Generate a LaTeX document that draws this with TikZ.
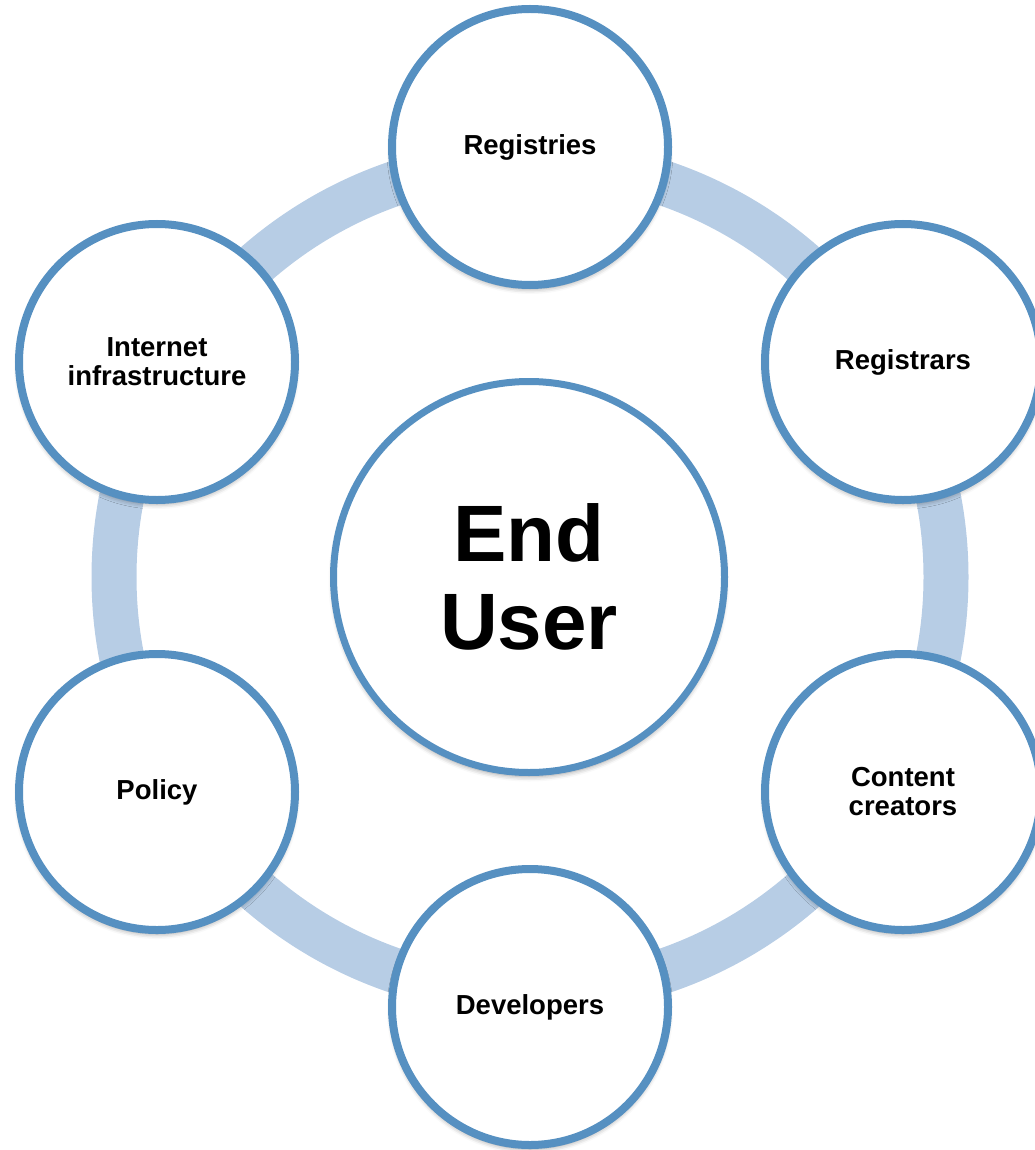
\documentclass[tikz,border=0pt]{standalone}
\usepackage{fontspec}
\setmainfont{Liberation Sans}
\usetikzlibrary{shadows.blur}
\definecolor{bord}{HTML}{5690C1}
\definecolor{ringc}{HTML}{B7CDE5}
\begin{document}
\begin{tikzpicture}[x=1pt,y=-1pt,
  softshadow/.style={blur shadow={shadow xshift=0pt, shadow yshift=-4pt, shadow blur radius=5pt, shadow opacity=40}},
  hub/.style={circle, draw=bord, line width=7pt, fill=white, minimum size=391pt, inner sep=0pt, align=center,
    font=\fontsize{80}{88}\selectfont\bfseries, softshadow},
  spoke/.style={circle, draw=bord, line width=8pt, fill=white, minimum size=276pt, inner sep=0pt, align=center,
    font=\fontsize{27.5}{29}\selectfont\bfseries, softshadow}]
\useasboundingbox (0,0) rectangle (1034,1150);
\coordinate (C) at (530,577);
\draw[ringc, line width=45pt] (C) circle (416);
\node[hub] (eu) at (529,577) {End\\User};
\node[spoke] (reg) at (530,147) {Registries};
\node[spoke] (rar) at (903,362) {Registrars};
\node[spoke] (cc) at (903,792) {Content\\creators};
\node[spoke] (dev) at (530,1007) {Developers};
\node[spoke] (pol) at (157,792) {Policy};
\node[spoke] (inf) at (157,362) {Internet\\infrastructure};
\end{tikzpicture}
\end{document}
